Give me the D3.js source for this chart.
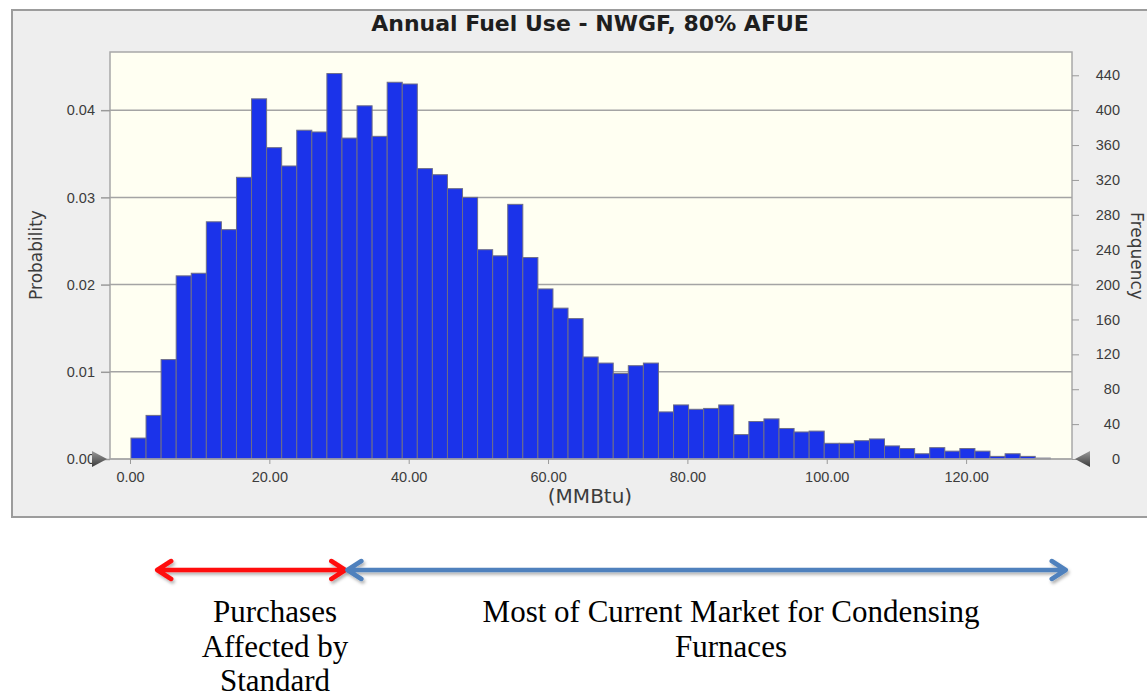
<!DOCTYPE html>
<meta charset="utf-8">

<style type="text/css">
  body { margin: 0; background: #fff; }
  svg { display: block; font-family: "DejaVu Sans", Verdana, sans-serif; }

  .grid line { stroke: #a4a4a4; stroke-width: 1.5; }
  .axis path { display: none; }
  .axis line { stroke: #9a9a9a; }
  .axis text { fill: #3c3c3c; font-size: 14.5px; }

  .bar { fill: #1b33ea; stroke: #6e6e88; stroke-width: 1; }

  .note { font-family: "Liberation Serif", "Times New Roman", serif; font-size: 31px; fill: #000; }
</style>
<body>
</body>

<script src="https://d3js.org/d3.v7.min.js"></script>
<script>

// histogram counts (frequency out of 10,000 trials), 61 bins
var counts = [24, 50, 114, 210, 213, 272, 263, 323, 413, 357,
              336, 377, 375, 442, 368, 405, 370, 432, 430, 333,
              326, 310, 300, 240, 233, 292, 231, 195, 173, 161,
              117, 110, 98, 107, 110, 54, 62, 57, 58, 62,
              28, 43, 46, 35, 31, 32, 18, 18, 21, 23,
              15, 12, 6, 13, 9, 12, 9, 3, 6, 3,
              1];
var binStart = 0.14;     // MMBtu
var binWidth = 2.163;    // MMBtu
var trials = 10000;

var xTicks = [0, 20, 40, 60, 80, 100, 120];
var probTicks = [0, 0.01, 0.02, 0.03, 0.04];
var freqTicks = [0, 40, 80, 120, 160, 200, 240, 280, 320, 360, 400, 440];

// ranges marked by the arrows under the chart (MMBtu)
var ranges = [
  {from: 3.9, to: 30.9, color: "#ff0d0d", label: ["Purchases", "Affected by", "Standard"]},
  {from: 31.2, to: 134.3, color: "#4f81bd", label: ["Most of Current Market for Condensing", "Furnaces"]}
];

var W = 1147, H = 698;
var plot = {left: 110, right: 1072, top: 52, bottom: 459};

var svg = d3.select("body").append("svg")
    .attr("width", W)
    .attr("height", H);

// scales
var x = d3.scaleLinear()
    .domain([-2.87, 135.2])
    .range([plot.left, plot.right]);
var yFreq = d3.scaleLinear()
    .domain([0, 466.7])
    .range([plot.bottom, plot.top]);
var yProb = d3.scaleLinear()
    .domain([0, 466.7 / trials])
    .range([plot.bottom, plot.top]);

// outer panel
svg.append("rect")
    .attr("x", 12).attr("y", 10)
    .attr("width", W + 10).attr("height", 507)
    .attr("fill", "#eeeeee")
    .attr("stroke", "#9c9c9c")
    .attr("stroke-width", 2);

// plot background
svg.append("rect")
    .attr("x", plot.left).attr("y", plot.top)
    .attr("width", plot.right - plot.left)
    .attr("height", plot.bottom - plot.top)
    .attr("fill", "#fffff2")
    .attr("stroke", "#a8a8a8")
    .attr("stroke-width", 1.5);

// title
svg.append("text")
    .attr("x", 590).attr("y", 31)
    .attr("text-anchor", "middle")
    .style("font-weight", "bold")
    .style("font-size", "22px")
    .attr("fill", "#1e1e1e")
    .text("Annual Fuel Use - NWGF, 80% AFUE");

// gridlines (behind bars)
svg.append("g")
    .attr("class", "grid")
  .selectAll("line")
  .data(probTicks.filter(function(d) { return d > 0; }))
  .enter().append("line")
    .attr("x1", plot.left).attr("x2", plot.right)
    .attr("y1", function(d) { return yProb(d); })
    .attr("y2", function(d) { return yProb(d); });

// bars
svg.append("g")
  .selectAll("rect")
  .data(counts)
  .enter().append("rect")
    .attr("class", "bar")
    .attr("x", function(d, i) { return x(binStart + i * binWidth); })
    .attr("width", function(d, i) { return x(binStart + (i + 1) * binWidth) - x(binStart + i * binWidth); })
    .attr("y", function(d) { return yFreq(d); })
    .attr("height", function(d) { return plot.bottom - yFreq(d); });

// baseline
svg.append("line")
    .attr("x1", plot.left).attr("x2", plot.right)
    .attr("y1", plot.bottom).attr("y2", plot.bottom)
    .attr("stroke", "#a8a8a8").attr("stroke-width", 1.5);

// left axis: probability
var left = svg.append("g")
    .attr("class", "axis")
    .attr("transform", "translate(" + plot.left + ",0)")
    .call(d3.axisLeft(yProb).tickValues(probTicks).tickFormat(d3.format(".2f")).tickSize(9).tickPadding(6));
left.selectAll("line").attr("stroke", "#a4a4a4").attr("stroke-width", 1.5);

// right axis: frequency
var right = svg.append("g")
    .attr("class", "axis")
    .attr("transform", "translate(" + plot.right + ",0)")
    .call(d3.axisRight(yFreq).tickValues(freqTicks).tickSize(7));
right.selectAll("text").attr("text-anchor", "end").attr("x", 48);

// bottom axis
var bottom = svg.append("g")
    .attr("class", "axis")
    .attr("transform", "translate(0," + plot.bottom + ")")
    .call(d3.axisBottom(x).tickValues(xTicks).tickFormat(d3.format(".2f")).tickSize(5));
bottom.selectAll("text").attr("dy", 0).attr("y", 23);

// axis titles
svg.append("text")
    .attr("x", 590).attr("y", 503)
    .attr("text-anchor", "middle")
    .style("font-size", "20px")
    .attr("fill", "#3c3c3c")
    .text("(MMBtu)");

svg.append("text")
    .attr("transform", "translate(42,255) rotate(-90)")
    .attr("text-anchor", "middle")
    .style("font-size", "17px")
    .attr("fill", "#3c3c3c")
    .text("Probability");

svg.append("text")
    .attr("transform", "translate(1131,256) rotate(90)")
    .attr("text-anchor", "middle")
    .style("font-size", "17px")
    .attr("fill", "#3c3c3c")
    .text("Frequency");

// sliders at the ends of the baseline
var grad = svg.append("defs").append("linearGradient")
    .attr("id", "tri").attr("x1", 0).attr("y1", 0).attr("x2", 0).attr("y2", 1);
grad.append("stop").attr("offset", "0%").attr("stop-color", "#9a9a9a");
grad.append("stop").attr("offset", "100%").attr("stop-color", "#3a3a3a");

svg.append("path")
    .attr("d", "M92,451 L107,459 L92,467 Z")
    .attr("fill", "url(#tri)");
svg.append("path")
    .attr("d", "M1090,451 L1075,459 L1090,467 Z")
    .attr("fill", "url(#tri)");

// arrows and notes below the chart
var shadow = svg.select("defs").append("filter")
    .attr("id", "shadow").attr("x", "-5%").attr("y", "-50%").attr("width", "110%").attr("height", "200%");
shadow.append("feDropShadow")
    .attr("dx", 1.5).attr("dy", 2.5).attr("stdDeviation", 1.5)
    .attr("flood-color", "#000").attr("flood-opacity", 0.3);

var arrowY = 570, head = 14, spread = 9;

var arrows = svg.append("g")
  .selectAll("g")
  .data(ranges)
  .enter().append("g")
    .attr("filter", "url(#shadow)")
    .attr("stroke", function(d) { return d.color; })
    .attr("stroke-width", 4.5)
    .attr("stroke-linecap", "round")
    .attr("stroke-linejoin", "round")
    .attr("fill", "none");

arrows.append("path")
    .attr("d", function(d) {
      var a = x(d.from), b = x(d.to);
      return "M" + a + "," + arrowY + "L" + b + "," + arrowY +
        "M" + (a + head) + "," + (arrowY - spread) + "L" + a + "," + arrowY + "L" + (a + head) + "," + (arrowY + spread) +
        "M" + (b - head) + "," + (arrowY - spread) + "L" + b + "," + arrowY + "L" + (b - head) + "," + (arrowY + spread);
    });

// notes: lines packed a little tighter so the last one stays inside the page
svg.append("g")
  .selectAll("text")
  .data(ranges)
  .enter().append("text")
    .attr("class", "note")
    .attr("text-anchor", "middle")
    .attr("x", function(d, i) { return i === 0 ? 275 : 731; })
    .attr("y", 622)
  .selectAll("tspan")
  .data(function(d) { return d.label; })
  .enter().append("tspan")
    .attr("x", function() { return d3.select(this.parentNode).attr("x"); })
    .attr("dy", function(d, i) { return i === 0 ? 0 : 34.5; })
    .text(function(d) { return d; });

</script>
